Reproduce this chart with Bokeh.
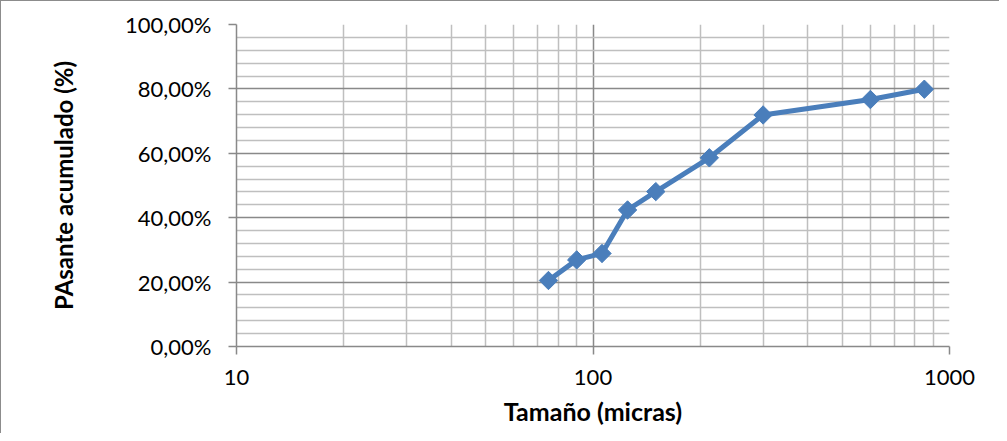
import numpy as np
from bokeh.plotting import figure
from bokeh.models import FixedTicker, CustomJSTickFormatter, Range1d, ColumnDataSource
from bokeh.embed import file_html
from bokeh.resources import INLINE

# Data
tamano = [75, 90, 106, 125, 150, 212, 300, 600, 850]
pasante = [20.5, 26.9, 28.9, 42.4, 48.1, 58.6, 71.9, 76.7, 79.9]

x_major = [10, 100, 1000]
x_minor = [20, 30, 40, 50, 60, 70, 80, 90, 200, 300, 400, 500, 600, 700, 800, 900]
y_major = [0, 20, 40, 60, 80, 100]
y_minor = [4, 8, 12, 16, 24, 28, 32, 36, 44, 48, 52, 56, 64, 68, 72, 76, 84, 88, 92, 96]

FONT = "Lato"
BLUE = "#4A7EBB"
MAJ = "#898989"
MIN = "#BFBFBF"

p = figure(width=999, height=433, x_axis_type="log",
           x_range=Range1d(10, 1000), y_range=Range1d(0, 100),
           output_backend="svg", toolbar_location=None,
           min_border_left=235, min_border_right=51,
           min_border_top=23, min_border_bottom=88)
p.styles = {"border-left": "1.5px solid #8c8c8c", "border-top": "1.5px solid #8c8c8c"}
p.outline_line_color = None
p.background_fill_color = "white"

src = ColumnDataSource(dict(x=tamano, y=pasante))

# axes
p.xaxis.ticker = FixedTicker(ticks=x_major, minor_ticks=x_minor)
p.yaxis.ticker = FixedTicker(ticks=y_major, minor_ticks=y_minor)
p.xaxis.formatter = CustomJSTickFormatter(code="return tick.toFixed(0);")
p.yaxis.formatter = CustomJSTickFormatter(code="return tick.toFixed(2).replace('.', ',') + '%';")

for ax in (p.xaxis, p.yaxis):
    ax.axis_line_color = MAJ
    ax.axis_line_width = 1.5
    ax.major_tick_line_color = MAJ
    ax.major_tick_line_width = 1.5
    ax.major_tick_out = 8
    ax.major_tick_in = 0
    ax.minor_tick_line_color = None
    ax.major_label_text_font = FONT
    ax.major_label_text_font_size = "22px"
    ax.major_label_text_color = "black"
    ax.axis_label_text_font = FONT
    ax.axis_label_text_font_style = "bold"
    ax.axis_label_text_color = "black"

p.yaxis.axis_label_text_font_size = "24px"
p.xaxis.axis_label_text_font_size = "25px"
p.yaxis.major_label_standoff = 17
p.xaxis.major_label_standoff = 15
p.yaxis.axis_label = "PAsante acumulado (%)"
p.xaxis.axis_label = "Tamaño (micras)"
p.yaxis.axis_label_standoff = 44
p.xaxis.axis_label_standoff = 8

# grids
for g in (p.xgrid, p.ygrid):
    g.grid_line_color = MAJ
    g.grid_line_width = 1.5
    g.minor_grid_line_color = MIN
    g.minor_grid_line_width = 1.5
p.xgrid.ticker = FixedTicker(ticks=x_major, minor_ticks=x_minor)
p.ygrid.ticker = FixedTicker(ticks=y_major, minor_ticks=y_minor)

p.line("x", "y", source=src, line_color=BLUE, line_width=5)
p.scatter("x", "y", source=src, marker="square", angle=np.pi / 4, size=13,
          fill_color=BLUE, line_color=BLUE)

open("out.html", "w").write(file_html(p, INLINE))
